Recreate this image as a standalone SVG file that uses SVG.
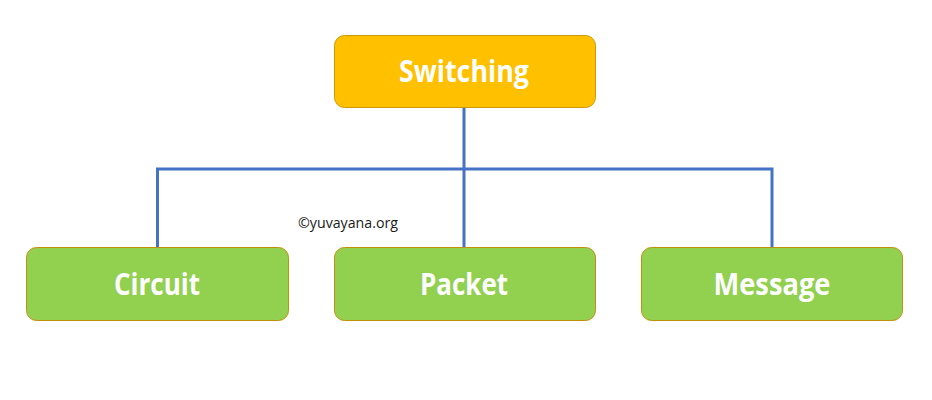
<svg xmlns="http://www.w3.org/2000/svg" width="932" height="400" viewBox="0 0 932 400">
<style>
.top{fill:#FFC000;stroke:#C99A06;stroke-width:1}
.leaf{fill:#92D050;stroke:#C0900A;stroke-width:1}
.lbl{font-family:"Open Sans","Liberation Sans",sans-serif;font-weight:bold;font-size:30px;fill:#FFFFFF;text-anchor:middle}
.conn{stroke:#4472C4;stroke-width:3;fill:none}
.wm{font-family:"Open Sans","Liberation Sans",sans-serif;font-size:14px;fill:#1a1a1a}
</style>
<rect width="932" height="400" fill="#FFFFFF"/>
<g id="connectors">
<path class="conn" d="M464 107 V247"/>
<path class="conn" d="M157.5 247 V169 H772 V247"/>
</g>
<g id="switching">
<rect class="top" x="334.5" y="35.5" width="261" height="72" rx="10"/>
<text class="lbl" x="464" y="82" textLength="130" lengthAdjust="spacingAndGlyphs">Switching</text>
</g>
<g id="circuit">
<rect class="leaf" x="26.5" y="247.5" width="262" height="73" rx="10"/>
<text class="lbl" x="157" y="295" textLength="86" lengthAdjust="spacingAndGlyphs">Circuit</text>
</g>
<g id="packet">
<rect class="leaf" x="334.5" y="247.5" width="261" height="73" rx="10"/>
<text class="lbl" x="464" y="295" textLength="88" lengthAdjust="spacingAndGlyphs">Packet</text>
</g>
<g id="message">
<rect class="leaf" x="641.5" y="247.5" width="261" height="73" rx="10"/>
<text class="lbl" x="772" y="295" textLength="117" lengthAdjust="spacingAndGlyphs">Message</text>
</g>
<text class="wm" x="298" y="228" textLength="100" lengthAdjust="spacingAndGlyphs">©yuvayana.org</text>
</svg>
